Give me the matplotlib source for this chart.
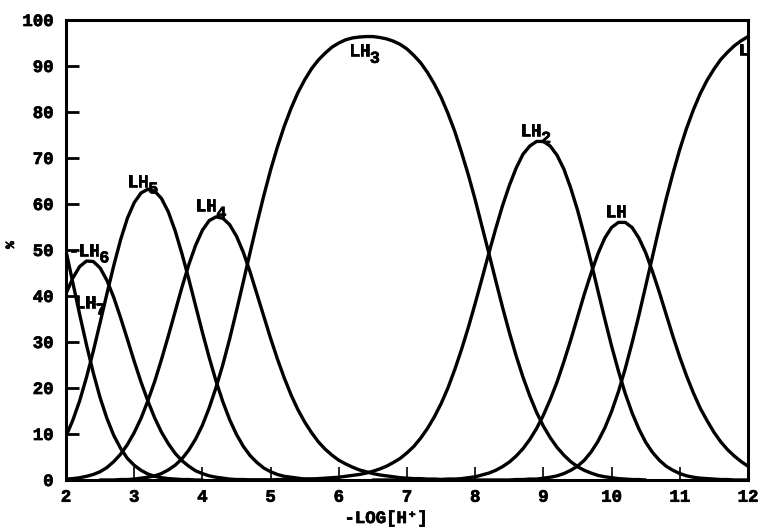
import matplotlib
matplotlib.use("Agg")
import matplotlib.pyplot as plt
import matplotlib.patheffects as pe

# pH grid (x axis values)
ph = [2.0, 2.1, 2.2, 2.3, 2.4, 2.5, 2.6, 2.7, 2.8, 2.9,
      3.0, 3.1, 3.2, 3.3, 3.4, 3.5, 3.6, 3.7, 3.8, 3.9,
      4.0, 4.1, 4.2, 4.3, 4.4, 4.5, 4.6, 4.7, 4.8, 4.9,
      5.0, 5.1, 5.2, 5.3, 5.4, 5.5, 5.6, 5.7, 5.8, 5.9,
      6.0, 6.1, 6.2, 6.3, 6.4, 6.5, 6.6, 6.7, 6.8, 6.9,
      7.0, 7.1, 7.2, 7.3, 7.4, 7.5, 7.6, 7.7, 7.8, 7.9,
      8.0, 8.1, 8.2, 8.3, 8.4, 8.5, 8.6, 8.7, 8.8, 8.9,
      9.0, 9.1, 9.2, 9.3, 9.4, 9.5, 9.6, 9.7, 9.8, 9.9,
      10.0, 10.1, 10.2, 10.3, 10.4, 10.5, 10.6, 10.7, 10.8, 10.9,
      11.0, 11.1, 11.2, 11.3, 11.4, 11.5, 11.6, 11.7, 11.8, 11.9,
      12.0]

# species percentages (each list starts at the pH given in `starts`)
lh7 = [49.8, 42.9, 36.0, 29.4, 23.3, 17.9, 13.4, 9.7, 6.9, 4.7,
       3.2, 2.1, 1.3, 0.8, 0.5, 0.3, 0.2, 0.1, 0.1, 0.0,
       0.0]
lh6 = [40.5, 43.9, 46.4, 47.6, 47.5, 46.1, 43.4, 39.7, 35.3, 30.6,
       25.8, 21.3, 17.2, 13.5, 10.4, 7.9, 5.8, 4.2, 3.0, 2.0,
       1.4, 0.9, 0.6, 0.4, 0.2, 0.1, 0.1, 0.0, 0.0, 0.0,
       0.0]
lh5 = [9.5, 13.0, 17.2, 22.3, 28.0, 34.2, 40.5, 46.6, 52.2, 56.9,
       60.3, 62.4, 63.2, 62.8, 61.2, 58.3, 54.2, 49.2, 43.7, 37.9,
       32.1, 26.6, 21.5, 17.0, 13.1, 9.9, 7.3, 5.3, 3.8, 2.6,
       1.8, 1.2, 0.8, 0.6, 0.4, 0.2, 0.2, 0.1, 0.1, 0.0,
       0.0]
lh4 = [0.2, 0.3, 0.5, 0.8, 1.2, 1.8, 2.7, 4.0, 5.6, 7.7,
       10.3, 13.4, 17.2, 21.4, 26.2, 31.3, 36.6, 41.9, 46.8, 51.0,
       54.3, 56.4, 57.2, 56.9, 55.5, 53.0, 49.5, 45.2, 40.4, 35.6,
       30.8, 26.3, 22.2, 18.5, 15.3, 12.6, 10.3, 8.3, 6.7, 5.4,
       4.3, 3.5, 2.8, 2.2, 1.8, 1.4, 1.1, 0.9, 0.7, 0.5,
       0.4, 0.3, 0.3, 0.2, 0.2, 0.1, 0.1, 0.1, 0.0, 0.0,
       0.0]
lh3 = [0.0, 0.0, 0.0, 0.1, 0.1,
       0.2, 0.4, 0.6, 0.9, 1.4, 2.2, 3.2, 4.6, 6.5, 8.9,
       11.9, 15.7, 20.1, 25.1, 30.7, 36.8, 43.1, 49.5, 55.8, 61.8,
       67.4, 72.4, 76.9, 80.8, 84.2, 87.0, 89.4, 91.3, 92.8, 94.1,
       95.0, 95.7, 96.1, 96.3, 96.4, 96.4, 96.2, 95.9, 95.4, 94.7,
       93.7, 92.3, 90.7, 88.6, 86.1, 83.2, 79.7, 75.8, 71.2, 66.3,
       60.9, 55.1, 49.3, 43.4, 37.6, 32.1, 27.0, 22.4, 18.3, 14.7,
       11.7, 9.2, 7.1, 5.4, 4.0, 2.9, 2.1, 1.5, 1.0, 0.7,
       0.5, 0.3, 0.2, 0.1, 0.1, 0.0]
lh2 = [0.0, 0.0, 0.0, 0.0, 0.0,
       0.0, 0.1, 0.1, 0.1, 0.1, 0.2, 0.2, 0.3, 0.4, 0.5,
       0.6, 0.8, 1.0, 1.2, 1.5, 1.9, 2.4, 3.0, 3.8, 4.7,
       5.9, 7.3, 9.1, 11.2, 13.7, 16.6, 20.0, 24.0, 28.4, 33.2,
       38.4, 43.8, 49.3, 54.6, 59.6, 64.0, 67.8, 70.8, 72.6, 73.6,
       73.6, 72.6, 70.6, 67.6, 63.5, 58.7, 53.2, 47.3, 41.1, 35.0,
       29.1, 23.7, 18.8, 14.6, 11.1, 8.2, 6.0, 4.3, 3.0, 2.1,
       1.4, 0.9, 0.6, 0.4, 0.3, 0.2, 0.1, 0.1, 0.0, 0.0,
       0.0]
lh1 = [0.0, 0.0, 0.0, 0.0, 0.0,
       0.0, 0.0, 0.0, 0.0, 0.1, 0.1, 0.2, 0.2, 0.3, 0.5,
       0.7, 1.1, 1.5, 2.1, 2.9, 3.9, 5.2, 6.8, 8.8, 11.2,
       14.1, 17.5, 21.3, 25.7, 30.4, 35.4, 40.4, 45.0, 49.2, 52.6,
       54.9, 56.0, 56.0, 54.9, 52.6, 49.4, 45.3, 40.8, 36.0, 31.2,
       26.7, 22.6, 18.9, 15.6, 12.9, 10.4, 8.3, 6.6, 5.2, 4.0,
       3.0]
l0 = [0.0, 0.0, 0.0, 0.0, 0.0, 0.0, 0.1, 0.1, 0.2, 0.2,
      0.4, 0.6, 0.9, 1.4, 2.1, 3.0, 4.3, 6.1, 8.4, 11.3,
      14.9, 19.2, 24.2, 29.8, 35.8, 42.2, 48.6, 55.0, 61.1, 66.7,
      71.9, 76.5, 80.5, 84.0, 86.9, 89.3, 91.4, 93.0, 94.4, 95.5,
      96.4]

series = [lh7, lh6, lh5, lh4, lh3, lh2, lh1, l0]
starts = [2.0, 2.0, 2.0, 2.0, 2.5, 4.5, 6.5, 8.0]

# curve labels: (text, subscript, x, y)
labels = ["-LH", "LH", "LH", "LH", "LH", "LH", "LH", "L"]
subs = ["6", "7", "5", "4", "3", "2", "", ""]
label_x = [2.03, 2.13, 2.90, 3.90, 6.15, 8.66, 9.91, 11.86]
label_y = [48.8, 37.5, 63.8, 58.5, 92.2, 74.8, 57.2, 92.4]

xticks = [2, 3, 4, 5, 6, 7, 8, 9, 10, 11, 12]
yticks = [0, 10, 20, 30, 40, 50, 60, 70, 80, 90, 100]

FONT = ["Liberation Mono", "DejaVu Sans Mono"]
HEAVY = [pe.withStroke(linewidth=0.5, foreground="black")]

fig = plt.figure(figsize=(7.6, 5.29), dpi=100)
ax = fig.add_axes([66 / 760, 1 - 480 / 529, (748 - 66) / 760, (480 - 20) / 529])

for vals, st in zip(series, starts):
    i0 = int(round((st - 2.0) * 10))
    ax.plot(ph[i0:i0 + len(vals)], vals, color="black", lw=2.4,
            solid_joinstyle="round", solid_capstyle="round")

ax.set_xlim(2, 12)
ax.set_ylim(0, 100)
ax.set_xticks(xticks)
ax.set_yticks(yticks)
ax.set_xticklabels([str(t) for t in xticks], fontfamily=FONT,
                   fontweight="bold", fontsize=12.5)
ax.set_yticklabels([str(t) for t in yticks], fontfamily=FONT,
                   fontweight="bold", fontsize=12.5)
for t in ax.get_xticklabels() + ax.get_yticklabels():
    t.set_path_effects(HEAVY)
ax.tick_params(axis="y", direction="in", length=9.5, width=2.0, pad=9)
ax.tick_params(axis="x", direction="in", length=9.5, width=1.2, pad=7)
for s in ax.spines.values():
    s.set_linewidth(2.2)

fs = 12.5
for txt, sub, x, y in zip(labels, subs, label_x, label_y):
    ax.text(x, y, txt, fontfamily=FONT, fontweight="bold", fontsize=fs,
            ha="left", va="baseline", path_effects=HEAVY)
    if sub:
        ax.annotate(sub, xy=(x, y), xycoords="data",
                    xytext=(len(txt) * 0.6 * fs, -5), textcoords="offset points",
                    fontfamily=FONT, fontweight="bold", fontsize=fs - 0.5,
                    ha="left", va="baseline", path_effects=HEAVY)

fig.text(386 / 760, 1 - 523 / 529, "-LOG[H\u207a]", fontfamily=FONT,
         fontweight="bold", fontsize=12.5, ha="center", va="baseline",
         path_effects=HEAVY)
fig.text(11 / 760, 1 - 245 / 529, "%", fontfamily=FONT, fontweight="bold",
         fontsize=9, ha="center", va="center", rotation=90,
         path_effects=HEAVY)

fig.savefig("out.png", dpi=100)
